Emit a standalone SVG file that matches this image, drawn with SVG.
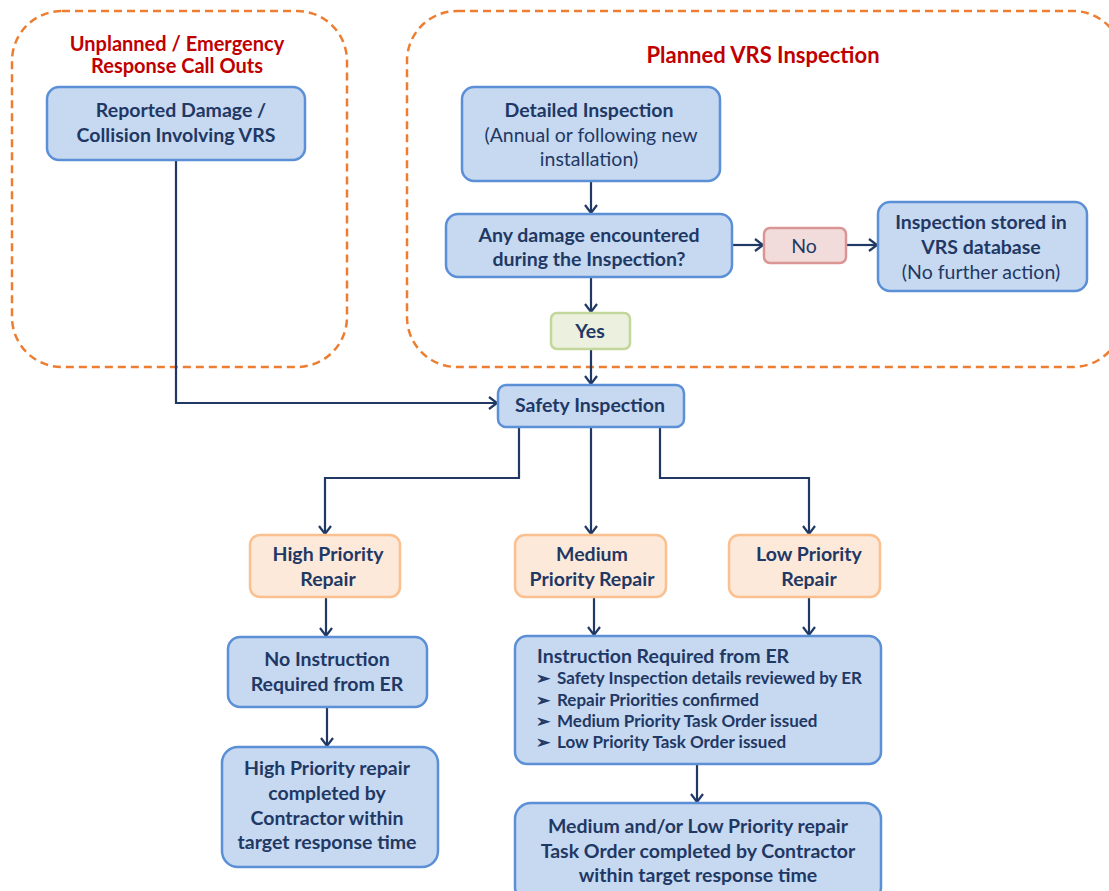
<svg xmlns="http://www.w3.org/2000/svg" width="1109" height="891" viewBox="0 0 1109 891">
<style>
.grp{fill:none;stroke:#ED7D31;stroke-width:2.5;stroke-dasharray:8 5}
.title{font-family:Lato,"Liberation Sans",sans-serif;font-weight:bold;font-size:22px;fill:#C00000;text-anchor:middle}
.blue{fill:#C6D9F1;stroke:#5B8FD6;stroke-width:2.5}
.orange{fill:#FDE9D9;stroke:#FAC090;stroke-width:2.5}
.red{fill:#F2DCDB;stroke:#D99694;stroke-width:2.5}
.green{fill:#EBF1DE;stroke:#C3D69B;stroke-width:2.5}
.t{font-family:Lato,"Liberation Sans",sans-serif;font-size:19.5px;fill:#1F3864;text-anchor:middle}
.b{font-weight:bold}
.s{font-family:Lato,"Liberation Sans",sans-serif;font-size:17px;font-weight:bold;fill:#1F3864}
.c{fill:none;stroke:#1F3864;stroke-width:2.2}
</style>
<defs>
<marker id="arr" markerUnits="userSpaceOnUse" markerWidth="16" markerHeight="16" refX="12" refY="8" orient="auto" viewBox="0 0 16 16">
<path d="M4,2 L12,8 L4,14" fill="none" stroke="#1F3864" stroke-width="2.2"/>
</marker>
</defs>

<g id="group-unplanned">
<rect class="grp" x="12" y="11" width="335" height="356" rx="50"/>
<text class="title" x="177" y="51" style="font-size:20px">Unplanned / Emergency</text>
<text class="title" x="177" y="73" style="font-size:20px">Response Call Outs</text>
</g>
<g id="group-planned">
<rect class="grp" x="407" y="11" width="716" height="356" rx="50"/>
<text class="title" x="763" y="63">Planned VRS Inspection</text>
</g>

<g id="connectors">
<path class="c" d="M176,160 V403 H497" marker-end="url(#arr)"/>
<path class="c" d="M591,181 V213" marker-end="url(#arr)"/>
<path class="c" d="M732,245 H763" marker-end="url(#arr)"/>
<path class="c" d="M846,245 H877" marker-end="url(#arr)"/>
<path class="c" d="M591,277 V312" marker-end="url(#arr)"/>
<path class="c" d="M591,349 V384" marker-end="url(#arr)"/>
<path class="c" d="M519,427 V478 H325 V534" marker-end="url(#arr)"/>
<path class="c" d="M591,427 V534" marker-end="url(#arr)"/>
<path class="c" d="M660,427 V478 H809 V534" marker-end="url(#arr)"/>
<path class="c" d="M326,597 V636" marker-end="url(#arr)"/>
<path class="c" d="M594,597 V635" marker-end="url(#arr)"/>
<path class="c" d="M809,597 V635" marker-end="url(#arr)"/>
<path class="c" d="M327,707 V746" marker-end="url(#arr)"/>
<path class="c" d="M697,764 V802" marker-end="url(#arr)"/>
</g>

<g id="reported-damage">
<rect class="blue" x="47" y="87" width="258" height="73" rx="12"/>
<text class="t b" x="181" y="117">Reported Damage /</text>
<text class="t b" x="176" y="142">Collision Involving VRS</text>
</g>

<g id="detailed-inspection">
<rect class="blue" x="462" y="87" width="258" height="94" rx="12"/>
<text class="t b" x="589" y="117">Detailed Inspection</text>
<text class="t" x="591" y="142">(Annual or following new</text>
<text class="t" x="589" y="166">installation)</text>
</g>

<g id="any-damage">
<rect class="blue" x="446" y="214" width="286" height="63" rx="12"/>
<text class="t b" x="589" y="242">Any damage encountered</text>
<text class="t b" x="589" y="266">during the Inspection?</text>
</g>

<g id="no">
<rect class="red" x="764" y="228" width="82" height="35" rx="6"/>
<text class="t" x="804" y="253">No</text>
</g>

<g id="inspection-stored">
<rect class="blue" x="878" y="202" width="209" height="89" rx="12"/>
<text class="t b" x="981" y="229">Inspection stored in</text>
<text class="t b" x="981" y="254">VRS database</text>
<text class="t" x="981" y="279">(No further action)</text>
</g>

<g id="yes">
<rect class="green" x="551" y="313" width="79" height="36" rx="6"/>
<text class="t b" x="590" y="338">Yes</text>
</g>

<g id="safety-inspection">
<rect class="blue" x="498" y="385" width="186" height="42" rx="8"/>
<text class="t b" x="590" y="412">Safety Inspection</text>
</g>

<g id="high-priority">
<rect class="orange" x="250" y="535" width="150" height="62" rx="10"/>
<text class="t b" x="328" y="561">High Priority</text>
<text class="t b" x="328" y="586">Repair</text>
</g>

<g id="medium-priority">
<rect class="orange" x="515" y="535" width="151" height="62" rx="10"/>
<text class="t b" x="592" y="561">Medium</text>
<text class="t b" x="592" y="586">Priority Repair</text>
</g>

<g id="low-priority">
<rect class="orange" x="729" y="535" width="151" height="62" rx="10"/>
<text class="t b" x="809" y="561">Low Priority</text>
<text class="t b" x="809" y="586">Repair</text>
</g>

<g id="no-instruction">
<rect class="blue" x="228" y="637" width="199" height="70" rx="12"/>
<text class="t b" x="327" y="666">No Instruction</text>
<text class="t b" x="327" y="691">Required from ER</text>
</g>

<g id="high-complete">
<rect class="blue" x="222" y="747" width="216" height="120" rx="16"/>
<text class="t b" x="327" y="775">High Priority repair</text>
<text class="t b" x="327" y="800">completed by</text>
<text class="t b" x="327" y="825">Contractor within</text>
<text class="t b" x="327" y="849">target response time</text>
</g>

<g id="instruction-required">
<rect class="blue" x="515" y="636" width="366" height="128" rx="12"/>
<text class="t b" x="537" y="663" style="text-anchor:start">Instruction Required from ER</text>
<text class="s" x="536" y="684">➢</text><text class="s" x="557" y="684">Safety Inspection details reviewed by ER</text>
<text class="s" x="536" y="706">➢</text><text class="s" x="557" y="706">Repair Priorities confirmed</text>
<text class="s" x="536" y="727">➢</text><text class="s" x="557" y="727">Medium Priority Task Order issued</text>
<text class="s" x="536" y="748">➢</text><text class="s" x="557" y="748">Low Priority Task Order issued</text>
</g>

<g id="medium-low-complete">
<rect class="blue" x="515" y="803" width="366" height="100" rx="16"/>
<text class="t b" x="698" y="833">Medium and/or Low Priority repair</text>
<text class="t b" x="698" y="858">Task Order completed by Contractor</text>
<text class="t b" x="698" y="882">within target response time</text>
</g>
</svg>
